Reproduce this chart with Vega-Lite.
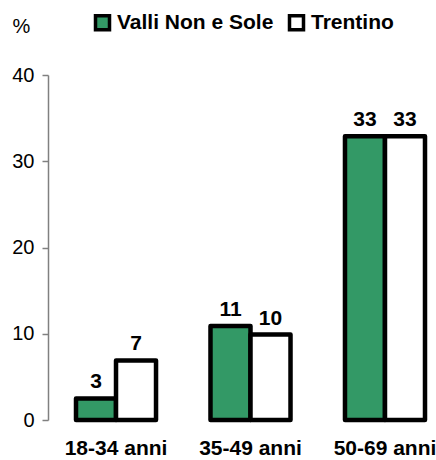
{
  "$schema": "https://vega.github.io/schema/vega-lite/v6.json",
  "width": 388,
  "height": 345,
  "autosize": "none",
  "padding": {"left": 48, "top": 75, "right": 0, "bottom": 40},
  "background": "white",
  "config": {"view": {"stroke": null}, "font": "Liberation Sans"},
  "data": {
    "values": [
      {"age": "18-34 anni", "series": "Valli Non e Sole", "value": 2.5, "label": "3"},
      {"age": "18-34 anni", "series": "Trentino", "value": 6.9, "label": "7"},
      {"age": "35-49 anni", "series": "Valli Non e Sole", "value": 10.9, "label": "11"},
      {"age": "35-49 anni", "series": "Trentino", "value": 9.9, "label": "10"},
      {"age": "50-69 anni", "series": "Valli Non e Sole", "value": 32.9, "label": "33"},
      {"age": "50-69 anni", "series": "Trentino", "value": 32.9, "label": "33"}
    ]
  },
  "encoding": {
    "x": {
      "field": "age",
      "type": "nominal",
      "sort": ["18-34 anni", "35-49 anni", "50-69 anni"],
      "scale": {"paddingInner": 0.405, "paddingOuter": 0.145, "align": 0.718},
      "axis": {
        "title": null,
        "domain": false,
        "ticks": false,
        "labelAngle": 0,
        "labelFontSize": 21,
        "labelFontWeight": "bold",
        "labelColor": "black",
        "labelPadding": 17
      }
    },
    "xOffset": {
      "field": "series",
      "type": "nominal",
      "sort": ["Valli Non e Sole", "Trentino"],
      "scale": {"paddingInner": 0, "paddingOuter": 0}
    },
    "y": {
      "field": "value",
      "type": "quantitative",
      "scale": {"domain": [0, 40], "nice": false},
      "axis": {
        "title": "%",
        "titleAngle": 0,
        "titleX": -27,
        "titleY": -49,
        "titleAlign": "center",
        "titleBaseline": "middle",
        "titleFontSize": 20,
        "titleFontWeight": "normal",
        "titleColor": "black",
        "values": [0, 10, 20, 30, 40],
        "grid": false,
        "domainColor": "#808080",
        "domainWidth": 1.5,
        "tickColor": "#808080",
        "tickWidth": 1.5,
        "tickSize": 6,
        "labelFontSize": 20,
        "labelColor": "black",
        "labelPadding": 8
      }
    }
  },
  "layer": [
    {
      "mark": {"type": "bar", "stroke": "black", "strokeWidth": 4.5, "strokeJoin": "round"},
      "encoding": {
        "fill": {
          "field": "series",
          "type": "nominal",
          "sort": ["Valli Non e Sole", "Trentino"],
          "scale": {"domain": ["Valli Non e Sole", "Trentino"], "range": ["#339966", "#ffffff"]},
          "legend": {
            "title": null,
            "orient": "none",
            "direction": "horizontal",
            "legendX": 44,
            "legendY": -63,
            "symbolType": "square",
            "symbolSize": 196,
            "symbolStrokeColor": "black",
            "symbolStrokeWidth": 3.5,
            "symbolOpacity": 1,
            "labelFontSize": 21,
            "labelFontWeight": "bold",
            "labelColor": "black",
            "labelOffset": 4,
            "columnPadding": 8
          }
        }
      }
    },
    {
      "mark": {"type": "text", "baseline": "bottom", "dy": -6, "fontSize": 21, "fontWeight": "bold", "color": "black"},
      "encoding": {"text": {"field": "label", "type": "nominal"}}
    }
  ]
}
